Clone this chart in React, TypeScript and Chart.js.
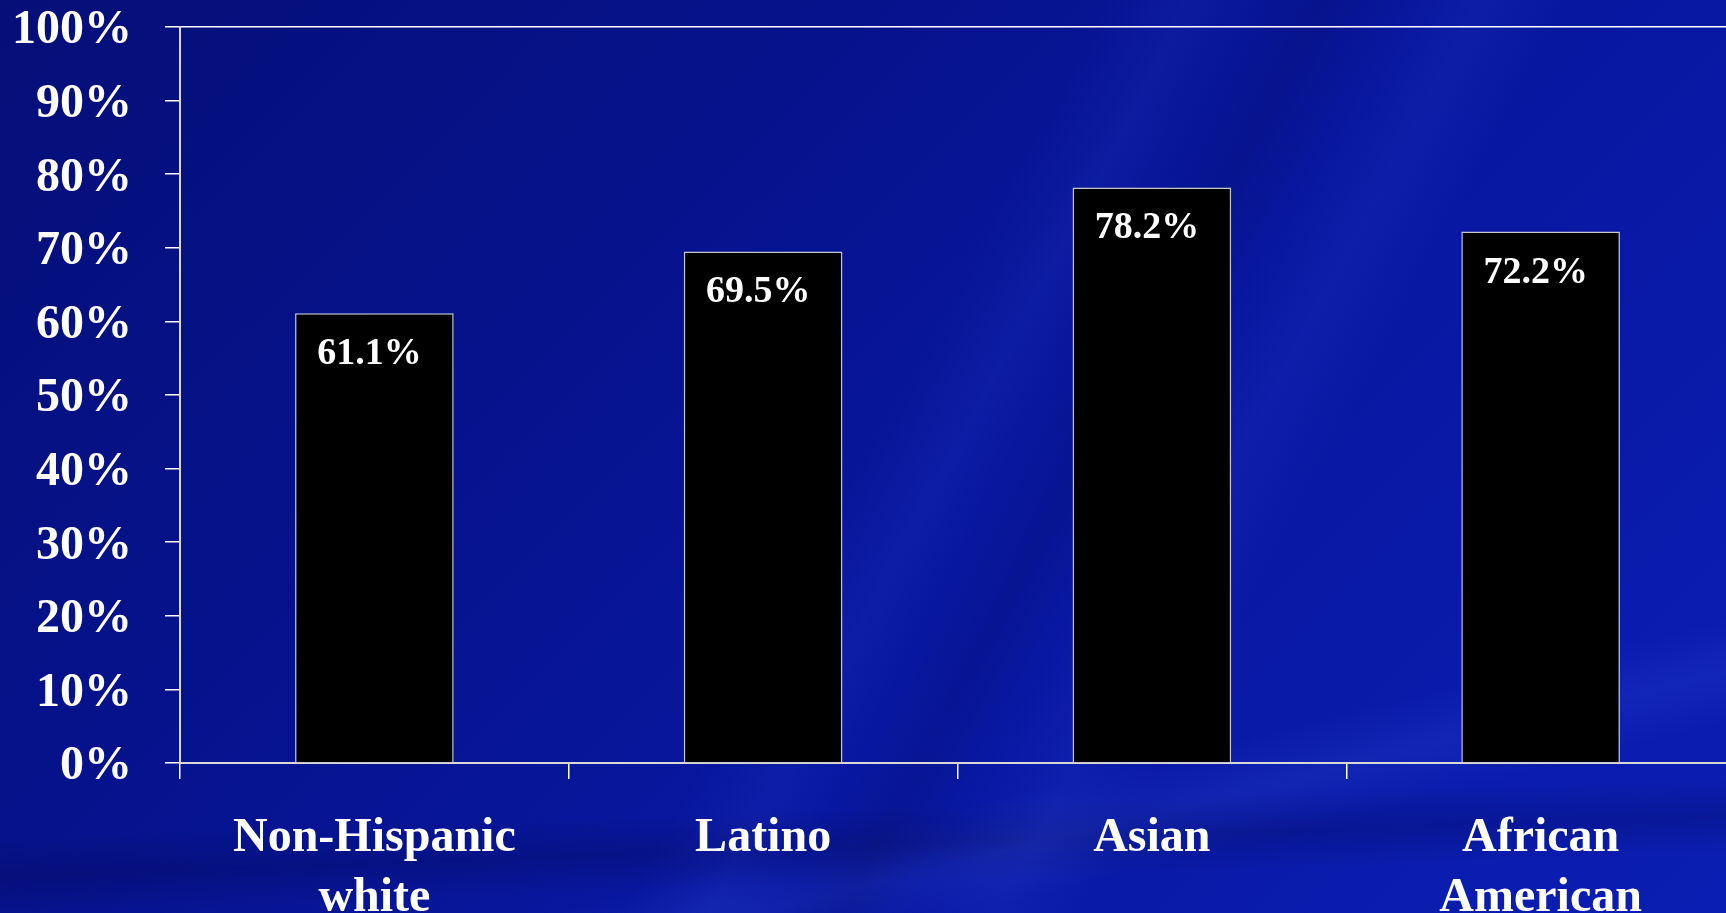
import React, { useEffect, useRef } from "react";
import { Chart, registerables } from "chart.js";

Chart.register(...registerables);

const categories: string[][] = [["Non-Hispanic", "white"], ["Latino"], ["Asian"], ["African", "American"]];
const values: number[] = [61.1, 69.5, 78.2, 72.2];
const yMin = 0;
const yMax = 100;
const yStep = 10;

const FONT = "'Liberation Serif', 'Times New Roman', serif";

const valueLabelPlugin = {
  id: "valueLabels",
  afterDatasetsDraw(chart: any) {
    const ctx = chart.ctx;
    const meta = chart.getDatasetMeta(0);
    ctx.save();
    ctx.font = `bold 38px ${FONT}`;
    ctx.fillStyle = "#ffffff";
    ctx.textAlign = "center";
    ctx.textBaseline = "alphabetic";
    meta.data.forEach((bar: any, i: number) => {
      const v = chart.data.datasets[0].data[i] as number;
      ctx.fillText(`${v.toFixed(1)}%`, bar.x - 5, bar.y + 51);
    });
    ctx.restore();
  },
};

export default function App() {
  const canvasRef = useRef<HTMLCanvasElement | null>(null);

  useEffect(() => {
    if (!canvasRef.current) return;
    const chart = new Chart(canvasRef.current, {
      type: "bar",
      data: {
        labels: categories,
        datasets: [
          {
            data: values,
            backgroundColor: "#000000",
            borderColor: "#c8c8c8",
            borderWidth: { top: 1.5, left: 1.5, right: 1.5, bottom: 0 },
            borderSkipped: "start",
            categoryPercentage: 1,
            barPercentage: 0.408,
          },
        ],
      },
      options: {
        responsive: false,
        animation: false,
        layout: { padding: { top: 27, left: 0, right: 0, bottom: 0 } },
        plugins: {
          legend: { display: false },
          tooltip: { enabled: false },
          title: { display: false },
        },
        scales: {
          x: {
            offset: true,
            grid: {
              offset: true,
              drawOnChartArea: false,
              color: "#ffffff",
              tickColor: "#ffffff",
              tickLength: 16,
              lineWidth: 1.5,
            },
            border: { display: true, color: "#d8d8d8", width: 2 },
            ticks: {
              color: "#ffffff",
              font: { family: FONT, weight: "bold", size: 48, lineHeight: 1.24 },
              padding: 30,
              maxRotation: 0,
              minRotation: 0,
              autoSkip: false,
            },
            afterFit: (scale: any) => {
              scale.height = 150;
              scale.paddingLeft = 0;
              scale.paddingRight = 0;
            },
          },
          y: {
            min: yMin,
            max: yMax,
            grid: {
              color: (c: any) => (c.tick && c.tick.value === yMax ? "#ffffff" : "rgba(0,0,0,0)"),
              tickColor: "#ffffff",
              tickLength: 15,
              lineWidth: 1.5,
            },
            border: { display: true, color: "#d8d8d8", width: 2 },
            ticks: {
              stepSize: yStep,
              color: "#ffffff",
              font: { family: FONT, weight: "bold", size: 48 },
              padding: 33,
              labelOffset: 4,
              callback: (v: any) => `${v}%`,
            },
            afterFit: (scale: any) => {
              scale.width = 180;
              scale.paddingTop = 0;
              scale.paddingBottom = 0;
            },
          },
        },
      },
      plugins: [valueLabelPlugin],
    });
    return () => chart.destroy();
  }, []);

  const bg = [
    "linear-gradient(118deg, rgba(0,0,0,0) 50%, rgba(70,100,255,0.09) 54%, rgba(0,0,0,0) 57%, rgba(0,0,30,0.10) 60%, rgba(0,0,0,0) 63%, rgba(70,100,255,0.09) 67%, rgba(0,0,0,0) 71%)",
    "linear-gradient(166deg, rgba(0,0,0,0) 78%, rgba(90,120,255,0.10) 82%, rgba(0,0,0,0) 86%)",
    "linear-gradient(178deg, rgba(0,0,0,0) 86%, rgba(0,0,40,0.18) 90%, rgba(0,0,0,0) 94%)",
    "linear-gradient(135deg, #050f78 0%, #06128a 30%, #0817a0 60%, #0a1cad 85%, #0b1eb3 100%)",
  ].join(", ");

  return (
    <div
      style={{
        position: "fixed",
        left: 0,
        top: 0,
        width: 1726,
        height: 913,
        overflow: "hidden",
        background: bg,
      }}
    >
      <canvas
        ref={canvasRef}
        width={1735}
        height={913}
        style={{ display: "block", width: 1735, height: 913 }}
      />
    </div>
  );
}
